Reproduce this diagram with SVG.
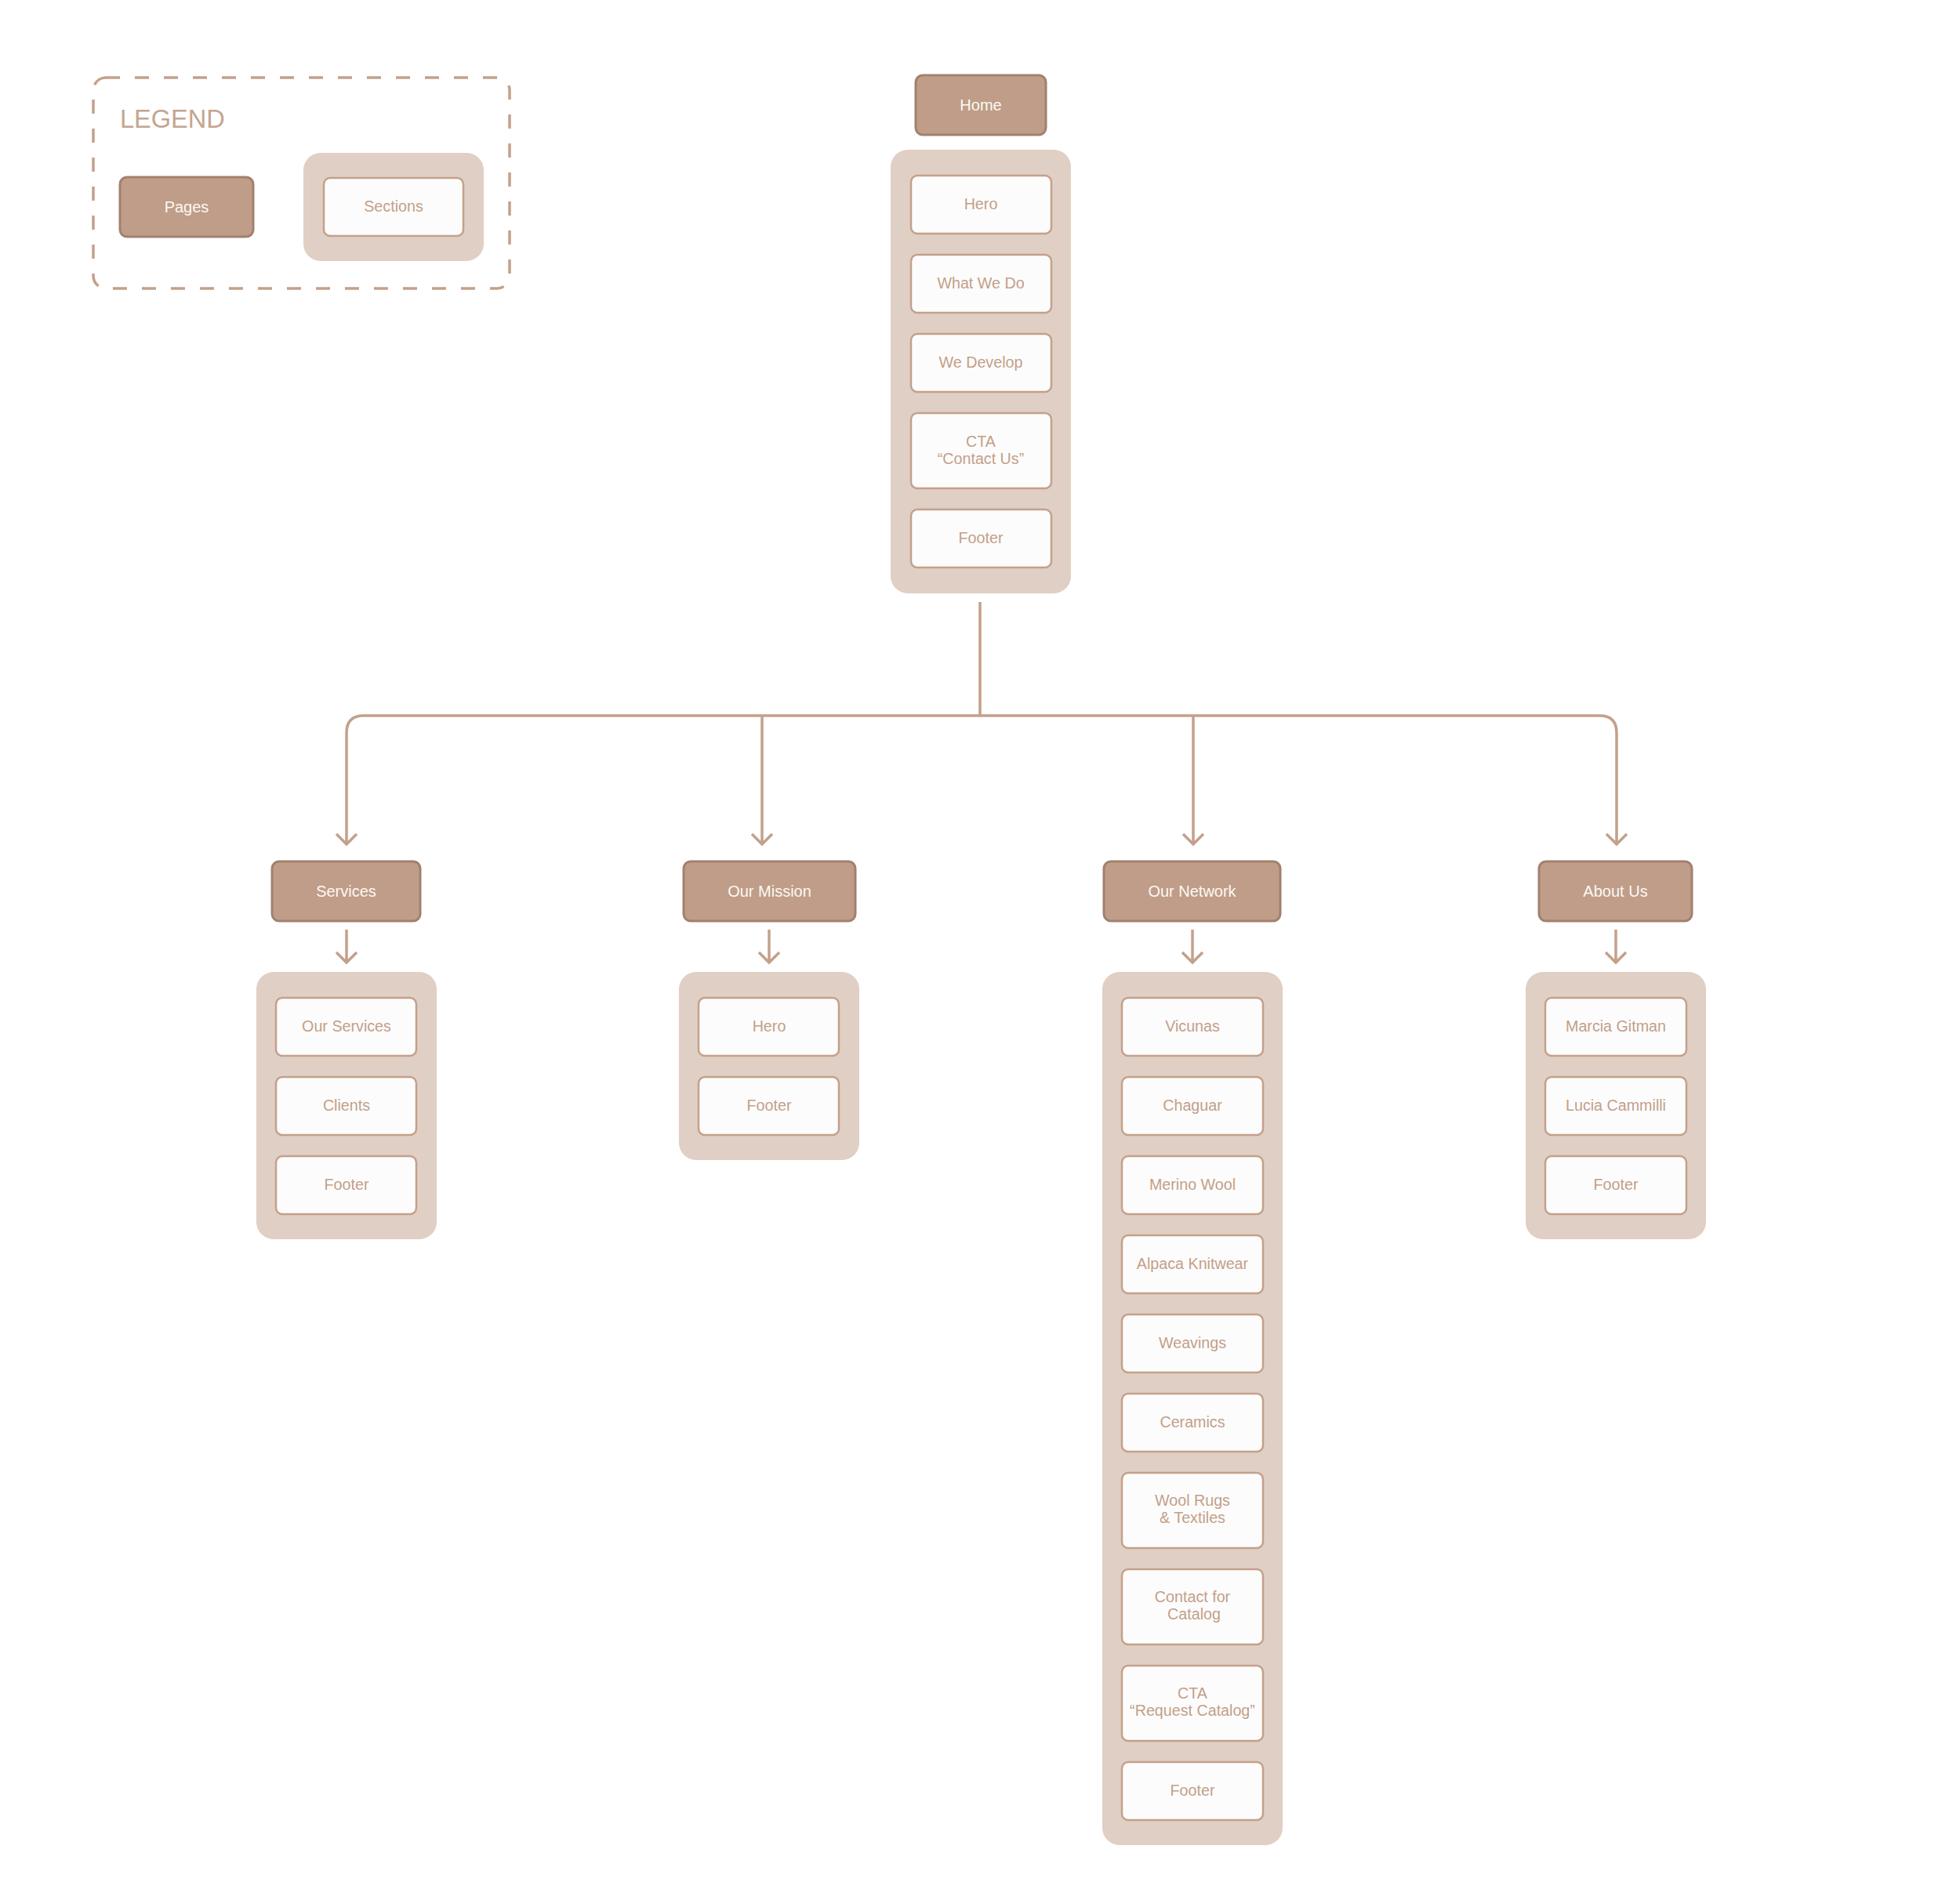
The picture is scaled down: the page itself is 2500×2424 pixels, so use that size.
<svg xmlns="http://www.w3.org/2000/svg" width="2500" height="2424" viewBox="0 0 2500 2424">
<defs>
<style>
.page{fill:#bf9d88;stroke:#a1816e;stroke-width:3}
.ptxt{font-family:"Liberation Sans",Arial,sans-serif;font-size:20px;fill:#fdf8f4;text-anchor:middle}
.cont{fill:#e0cfc4}
.sec{fill:#fdfcfc;stroke:#c4a08a;stroke-width:2.5}
.stxt{font-family:"Liberation Sans",Arial,sans-serif;font-size:19.7px;fill:#c29f89;text-anchor:middle}
.conn{fill:none;stroke:#c4a08a;stroke-width:3.5}
</style>
<marker id="arr" viewBox="0 0 30 30" markerWidth="30" markerHeight="30" refX="15" refY="15" orient="auto" markerUnits="userSpaceOnUse">
<path d="M2,2 L15,15 L2,28" fill="none" stroke="#c4a08a" stroke-width="3.5"/>
</marker>
</defs>
<rect width="2500" height="2424" fill="#ffffff"/>

<g id="legend">
<rect x="119" y="99" width="531" height="269" rx="16" fill="none" stroke="#c4a08a" stroke-width="3.5" stroke-dasharray="18 19"/>
<text x="153" y="163" font-family="Liberation Sans,Arial,sans-serif" font-size="32.5" fill="#c4a590">LEGEND</text>
<rect class="page" x="153" y="226" width="170" height="76" rx="9"/>
<text class="ptxt" x="238" y="271">Pages</text>
<rect class="cont" x="387" y="195" width="230" height="138" rx="22"/>
<rect class="sec" x="413" y="227" width="178" height="74" rx="8"/>
<text class="stxt" x="502" y="270">Sections</text>
</g>

<g id="connectors">
<path class="conn" d="M1250,768 V913"/>
<path class="conn" d="M1250,913 H464 Q442,913 442,935 V1077" marker-end="url(#arr)"/>
<path class="conn" d="M1250,913 H2040 Q2062,913 2062,935 V1077" marker-end="url(#arr)"/>
<path class="conn" d="M972,913 V1077" marker-end="url(#arr)"/>
<path class="conn" d="M1522,913 V1077" marker-end="url(#arr)"/>
<path class="conn" d="M442,1186 V1228" marker-end="url(#arr)"/>
<path class="conn" d="M981,1186 V1228" marker-end="url(#arr)"/>
<path class="conn" d="M1521,1186 V1228" marker-end="url(#arr)"/>
<path class="conn" d="M2061,1186 V1228" marker-end="url(#arr)"/>
</g>

<g id="home">
<rect class="page" x="1168" y="96" width="166" height="76" rx="9"/>
<text class="ptxt" x="1251" y="141">Home</text>
</g>
<g id="home-sections">
<rect class="cont" x="1136" y="191" width="230" height="566" rx="22"/>
<rect class="sec" x="1162" y="224" width="179" height="74" rx="8"/>
<text class="stxt" x="1251" y="267">Hero</text>
<rect class="sec" x="1162" y="325" width="179" height="74" rx="8"/>
<text class="stxt" x="1251" y="368">What We Do</text>
<rect class="sec" x="1162" y="426" width="179" height="74" rx="8"/>
<text class="stxt" x="1251" y="469">We Develop</text>
<rect class="sec" x="1162" y="527" width="179" height="96" rx="8"/>
<text class="stxt" x="1251" y="570">CTA</text>
<text class="stxt" x="1251" y="592">“Contact Us”</text>
<rect class="sec" x="1162" y="650" width="179" height="74" rx="8"/>
<text class="stxt" x="1251" y="693">Footer</text>
</g>

<g id="services">
<rect class="page" x="347" y="1099" width="189" height="76" rx="9"/>
<text class="ptxt" x="441.5" y="1144">Services</text>
</g>
<g id="services-sections">
<rect class="cont" x="327" y="1240" width="230" height="341" rx="22"/>
<rect class="sec" x="352" y="1273" width="179" height="74" rx="8"/>
<text class="stxt" x="442" y="1316">Our Services</text>
<rect class="sec" x="352" y="1374" width="179" height="74" rx="8"/>
<text class="stxt" x="442" y="1417">Clients</text>
<rect class="sec" x="352" y="1475" width="179" height="74" rx="8"/>
<text class="stxt" x="442" y="1518">Footer</text>
</g>

<g id="our-mission">
<rect class="page" x="872" y="1099" width="219" height="76" rx="9"/>
<text class="ptxt" x="981.5" y="1144">Our Mission</text>
</g>
<g id="mission-sections">
<rect class="cont" x="866" y="1240" width="230" height="240" rx="22"/>
<rect class="sec" x="891" y="1273" width="179" height="74" rx="8"/>
<text class="stxt" x="981" y="1316">Hero</text>
<rect class="sec" x="891" y="1374" width="179" height="74" rx="8"/>
<text class="stxt" x="981" y="1417">Footer</text>
</g>

<g id="our-network">
<rect class="page" x="1408" y="1099" width="225" height="76" rx="9"/>
<text class="ptxt" x="1520.5" y="1144">Our Network</text>
</g>
<g id="network-sections">
<rect class="cont" x="1406" y="1240" width="230" height="1114" rx="22"/>
<rect class="sec" x="1431" y="1273" width="180" height="74" rx="8"/>
<text class="stxt" x="1521" y="1316">Vicunas</text>
<rect class="sec" x="1431" y="1374" width="180" height="74" rx="8"/>
<text class="stxt" x="1521" y="1417">Chaguar</text>
<rect class="sec" x="1431" y="1475" width="180" height="74" rx="8"/>
<text class="stxt" x="1521" y="1518">Merino Wool</text>
<rect class="sec" x="1431" y="1576" width="180" height="74" rx="8"/>
<text class="stxt" x="1521" y="1619">Alpaca Knitwear</text>
<rect class="sec" x="1431" y="1677" width="180" height="74" rx="8"/>
<text class="stxt" x="1521" y="1720">Weavings</text>
<rect class="sec" x="1431" y="1778" width="180" height="74" rx="8"/>
<text class="stxt" x="1521" y="1821">Ceramics</text>
<rect class="sec" x="1431" y="1879" width="180" height="96" rx="8"/>
<text class="stxt" x="1521" y="1921">Wool Rugs</text>
<text class="stxt" x="1521" y="1943">&amp; Textiles</text>
<rect class="sec" x="1431" y="2002" width="180" height="96" rx="8"/>
<text class="stxt" x="1521" y="2044">Contact for</text>
<text class="stxt" x="1523" y="2066">Catalog</text>
<rect class="sec" x="1431" y="2125" width="180" height="96" rx="8"/>
<text class="stxt" x="1521" y="2167">CTA</text>
<text class="stxt" x="1521" y="2189">“Request Catalog”</text>
<rect class="sec" x="1431" y="2248" width="180" height="74" rx="8"/>
<text class="stxt" x="1521" y="2291">Footer</text>
</g>

<g id="about-us">
<rect class="page" x="1963" y="1099" width="195" height="76" rx="9"/>
<text class="ptxt" x="2060.5" y="1144">About Us</text>
</g>
<g id="about-sections">
<rect class="cont" x="1946" y="1240" width="230" height="341" rx="22"/>
<rect class="sec" x="1971" y="1273" width="180" height="74" rx="8"/>
<text class="stxt" x="2061" y="1316">Marcia Gitman</text>
<rect class="sec" x="1971" y="1374" width="180" height="74" rx="8"/>
<text class="stxt" x="2061" y="1417">Lucia Cammilli</text>
<rect class="sec" x="1971" y="1475" width="180" height="74" rx="8"/>
<text class="stxt" x="2061" y="1518">Footer</text>
</g>
</svg>
